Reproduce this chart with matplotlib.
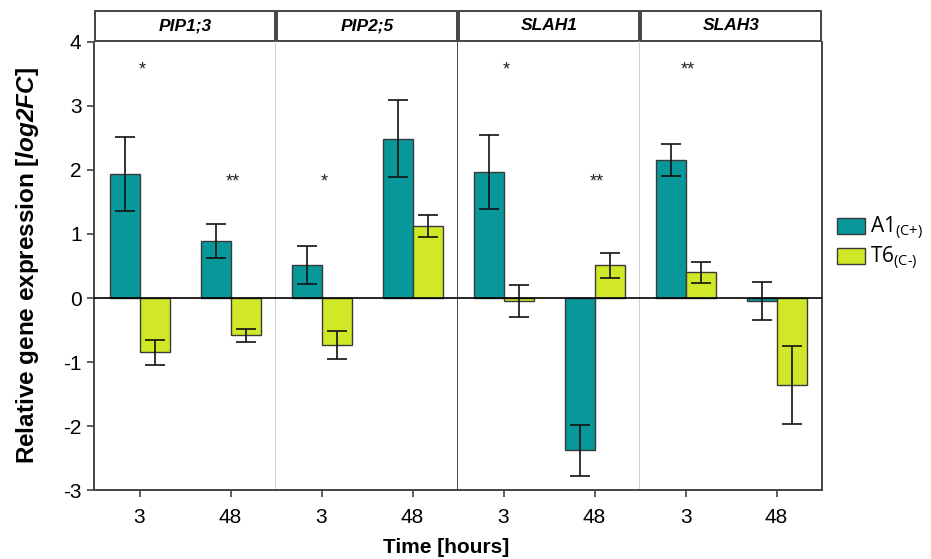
import matplotlib.pyplot as plt
from matplotlib.patches import Patch, Rectangle

plt.rcParams['font.family'] = ['Liberation Sans', 'DejaVu Sans']
plt.rcParams['mathtext.fontset'] = 'custom'
plt.rcParams['mathtext.bfit'] = 'Liberation Sans:italic:bold'
plt.rcParams['mathtext.rm'] = 'Open Sans'
plt.rcParams['axes.unicode_minus'] = False

genes = ['PIP1;3', 'PIP2;5', 'SLAH1', 'SLAH3']
times = ['3', '48']

# mean log2FC and error per gene, for 3 h and 48 h
a1_mean = [[1.94, 0.89], [0.52, 2.49], [1.97, -2.38], [2.15, -0.05]]
a1_err = [[0.58, 0.26], [0.30, 0.60], [0.58, 0.40], [0.25, 0.30]]
t6_mean = [[-0.85, -0.58], [-0.73, 1.13], [-0.05, 0.51], [0.40, -1.36]]
t6_err = [[0.19, 0.10], [0.22, 0.17], [0.25, 0.20], [0.17, 0.61]]

# significance marks: (gene index, time index, label, y)
stars = [(0, 0, '*', 3.57), (0, 1, '**', 1.82), (1, 0, '*', 1.82),
         (2, 0, '*', 3.57), (2, 1, '**', 1.82), (3, 0, '**', 3.57)]

teal = '#089899'
lime = '#d0e828'
edge = '#3a3a3a'
dark = '#444444'
light = '#c8c8c8'

fig, axes = plt.subplots(1, 4, figsize=(9.31, 5.59), dpi=100, sharey=True)
fig.subplots_adjust(left=0.101, right=0.883, bottom=0.1234, top=0.9249, wspace=0)

xpos = [1, 3]
w = 0.66
for i, ax in enumerate(axes):
    ax.bar([x - w / 2 for x in xpos], a1_mean[i], w, color=teal, edgecolor=edge,
           linewidth=1, zorder=2)
    ax.bar([x + w / 2 for x in xpos], t6_mean[i], w, color=lime, edgecolor=edge,
           linewidth=1, zorder=2)
    ax.errorbar([x - w / 2 for x in xpos], a1_mean[i], yerr=a1_err[i], fmt='none',
                ecolor='#111111', elinewidth=1.2, capsize=7, capthick=1.2, zorder=3)
    ax.errorbar([x + w / 2 for x in xpos], t6_mean[i], yerr=t6_err[i], fmt='none',
                ecolor='#111111', elinewidth=1.2, capsize=7, capthick=1.2, zorder=3)
    ax.axhline(0, color='black', linewidth=1.2, zorder=4)
    ax.set_xlim(0, 4)
    ax.set_ylim(-3, 4)
    ax.set_xticks(xpos)
    ax.set_xticklabels(times, fontsize=15)
    ax.tick_params(axis='x', direction='out', length=5, width=1.2, color=dark, pad=8)
    ax.spines['top'].set_visible(False)
    ax.spines['bottom'].set_color(dark)
    ax.spines['bottom'].set_linewidth(1.4)
    if i > 0:
        ax.spines['left'].set_visible(False)
        ax.tick_params(axis='y', left=False)
    ax.spines['right'].set_color(dark if i in (1, 3) else light)
    ax.spines['right'].set_linewidth(1.4 if i in (1, 3) else 1.2)

    # facet strip
    ax.add_patch(Rectangle((0.006, 1.003), 0.988, 0.066, transform=ax.transAxes,
                           facecolor='white', edgecolor=dark, linewidth=1.4,
                           clip_on=False))
    ax.text(0.5, 1.036, genes[i], transform=ax.transAxes, ha='center', va='center',
            fontsize=12.5, fontweight='bold', fontstyle='italic')

for g, t, lab, y in stars:
    axes[g].text(xpos[t] + 0.06, y, lab, ha='center', va='center', fontsize=13,
                 color='#222222')

ax0 = axes[0]
ax0.set_yticks(range(-3, 5))
ax0.tick_params(axis='y', direction='out', length=5, width=1.2, color=dark,
                labelsize=15, pad=4)
ax0.spines['left'].set_color(dark)
ax0.spines['left'].set_linewidth(1.4)

fig.text(0.03, 0.5245, r'Relative gene expression [$\mathbfit{log2FC}$]',
         rotation=90, ha='center', va='center', fontsize=17.5, fontweight='bold')
fig.text(0.479, 0.021, 'Time [hours]', ha='center', va='center', fontsize=15,
         fontweight='bold')

handles = [Patch(facecolor=teal, edgecolor=edge), Patch(facecolor=lime, edgecolor=edge)]
labels = [r'A1$_{\text{(C+)}}$', r'T6$_{\text{(C-)}}$']
fig.legend(handles, labels, loc='center left', bbox_to_anchor=(0.879, 0.565),
           frameon=False, handlelength=1.35, handleheight=0.75,
           handletextpad=0.25, labelspacing=0.12,
           prop={'family': 'Open Sans', 'size': 15})

fig.savefig('out.png', dpi=100)
